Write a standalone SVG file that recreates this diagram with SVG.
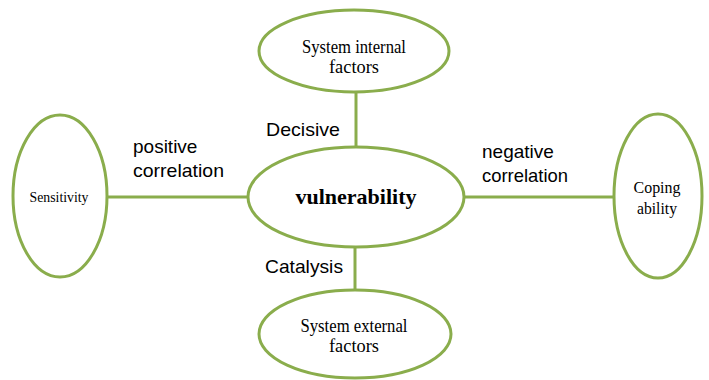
<svg xmlns="http://www.w3.org/2000/svg" width="709" height="380" viewBox="0 0 709 380">
<style>
.node ellipse{fill:#fff;stroke:#8aad4c;stroke-width:3}
.conn line{stroke:#8aad4c;stroke-width:3}
.serif{font-family:"Liberation Serif","Times New Roman",serif;fill:#000;text-anchor:middle}
.sans{font-family:"Liberation Sans",Arial,sans-serif;fill:#000;font-size:19px}
</style>
<rect width="709" height="380" fill="#fff"/>
<g id="connectors" class="conn">
<line x1="356" y1="92" x2="356" y2="148"/>
<line x1="355" y1="245" x2="355" y2="291"/>
<line x1="107" y1="197" x2="249" y2="197"/>
<line x1="463" y1="197" x2="614" y2="197"/>
</g>
<g id="internal" class="node">
<ellipse cx="354" cy="51" rx="95" ry="41"/>
<text class="serif" x="354" y="53" font-size="18" textLength="104" lengthAdjust="spacingAndGlyphs">System internal</text>
<text class="serif" x="354" y="73" font-size="18" textLength="50" lengthAdjust="spacingAndGlyphs">factors</text>
</g>
<g id="vulnerability" class="node">
<ellipse cx="356" cy="197" rx="108" ry="50"/>
<text class="serif" x="356" y="204" font-size="22" font-weight="bold">vulnerability</text>
</g>
<g id="external" class="node">
<ellipse cx="355" cy="334" rx="96" ry="44"/>
<text class="serif" x="354" y="332" font-size="18" textLength="107" lengthAdjust="spacingAndGlyphs">System external</text>
<text class="serif" x="354" y="352" font-size="18" textLength="50" lengthAdjust="spacingAndGlyphs">factors</text>
</g>
<g id="sensitivity" class="node">
<ellipse cx="60" cy="196" rx="47" ry="81"/>
<text class="serif" x="59" y="202" font-size="15" textLength="59" lengthAdjust="spacingAndGlyphs">Sensitivity</text>
</g>
<g id="coping" class="node">
<ellipse cx="658" cy="196" rx="44" ry="82"/>
<text class="serif" x="657" y="193" font-size="17" textLength="47" lengthAdjust="spacingAndGlyphs">Coping</text>
<text class="serif" x="657" y="214" font-size="17" textLength="40" lengthAdjust="spacingAndGlyphs">ability</text>
</g>
<g id="labels">
<text class="sans" x="266" y="136" textLength="74" lengthAdjust="spacingAndGlyphs">Decisive</text>
<text class="sans" x="265" y="273" textLength="78" lengthAdjust="spacingAndGlyphs">Catalysis</text>
<text class="sans" x="133" y="153">positive</text>
<text class="sans" x="133" y="177" textLength="91" lengthAdjust="spacingAndGlyphs">correlation</text>
<text class="sans" x="482" y="158">negative</text>
<text class="sans" x="482" y="182" textLength="86" lengthAdjust="spacingAndGlyphs">correlation</text>
</g>
</svg>
